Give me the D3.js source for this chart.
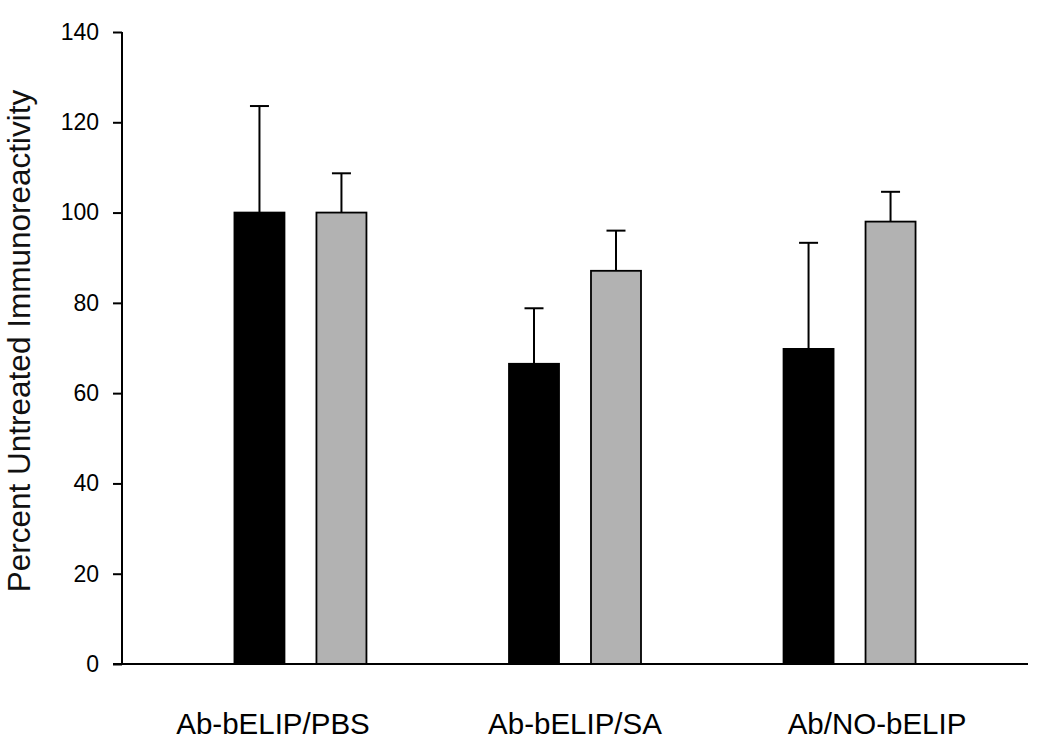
<!DOCTYPE html>
<html>
<head>
<meta charset="utf-8">
<script src="https://cdn.jsdelivr.net/npm/d3@7"></script>
<style>
  html, body { margin: 0; padding: 0; background: #fff; }
  svg { display: block; font-family: "Liberation Sans", Arial, sans-serif; }
</style>
</head>
<body>
<svg id="chart" width="1050" height="747"></svg>
<script>
const categories = ["Ab-bELIP/PBS", "Ab-bELIP/SA", "Ab/NO-bELIP"];
const seriesNames = ["black", "gray"];
const blackValues = [100, 66.5, 69.8];
const blackErrors = [23.6, 12.3, 23.5];
const grayValues = [100, 87.1, 98.0];
const grayErrors = [8.7, 8.9, 6.6];
const yTicks = [0, 20, 40, 60, 80, 100, 120, 140];
const yTitle = "Percent Untreated Immunoreactivity";

const colors = { black: "#000000", gray: "#b2b2b2" };

const svg = d3.select("#chart");
const pLeft = 122, pRight = 1028, pTop = 32, pBottom = 664;

const y = d3.scaleLinear().domain([0, 140]).range([pBottom, pTop]);
const xGroup = d3.scalePoint().domain(categories).range([pLeft, pRight]).padding(0.65);
const xLabel = d3.scaleBand().domain(categories).range([pLeft, pRight]);
const xSub = d3.scaleBand().domain(seriesNames).range([-66, 66]).paddingInner(0.39);

const rows = [];
categories.forEach((c, i) => {
  rows.push({ cat: c, s: "black", v: blackValues[i], e: blackErrors[i] });
  rows.push({ cat: c, s: "gray", v: grayValues[i], e: grayErrors[i] });
});

// bars
svg.append("g").selectAll("rect").data(rows).join("rect")
  .attr("x", d => xGroup(d.cat) + xSub(d.s))
  .attr("y", d => y(d.v))
  .attr("width", xSub.bandwidth())
  .attr("height", d => y(0) - y(d.v))
  .attr("fill", d => colors[d.s])
  .attr("stroke", "#000")
  .attr("stroke-width", 1.8);

// error bars
const eg = svg.append("g").attr("stroke", "#000").attr("stroke-width", 2);
rows.forEach(d => {
  const cx = xGroup(d.cat) + xSub(d.s) + xSub.bandwidth() / 2;
  eg.append("line").attr("x1", cx).attr("x2", cx).attr("y1", y(d.v)).attr("y2", y(d.v + d.e));
  eg.append("line").attr("x1", cx - 9.5).attr("x2", cx + 9.5).attr("y1", y(d.v + d.e)).attr("y2", y(d.v + d.e));
});

// y axis
const yAxis = d3.axisLeft(y).tickValues(yTicks).tickSize(9).tickPadding(14).tickFormat(d3.format("d"));
const ya = svg.append("g").attr("transform", `translate(${pLeft},0)`).call(yAxis);
ya.select(".domain").attr("stroke", "#000").attr("stroke-width", 2).attr("d", `M0,${pBottom}V${pTop}`);
ya.selectAll(".tick line").attr("stroke", "#000").attr("stroke-width", 2);
ya.selectAll(".tick text").attr("font-size", 23).attr("fill", "#000")
  .attr("font-family", "'Liberation Sans', Arial, sans-serif");

// x axis line
svg.append("line").attr("x1", pLeft - 9).attr("x2", pRight).attr("y1", pBottom).attr("y2", pBottom)
  .attr("stroke", "#000").attr("stroke-width", 2);

// x labels
svg.append("g").selectAll("text").data(categories).join("text")
  .attr("x", d => xLabel(d) + xLabel.bandwidth() / 2)
  .attr("y", 734)
  .attr("text-anchor", "middle")
  .attr("font-size", 29.5)
  .attr("fill", "#000")
  .text(d => d);

// y title
svg.append("text")
  .attr("transform", "translate(30,341) rotate(-90)")
  .attr("text-anchor", "middle")
  .attr("font-size", 31.5)
  .attr("fill", "#111")
  .text(yTitle);
</script>
</body>
</html>
